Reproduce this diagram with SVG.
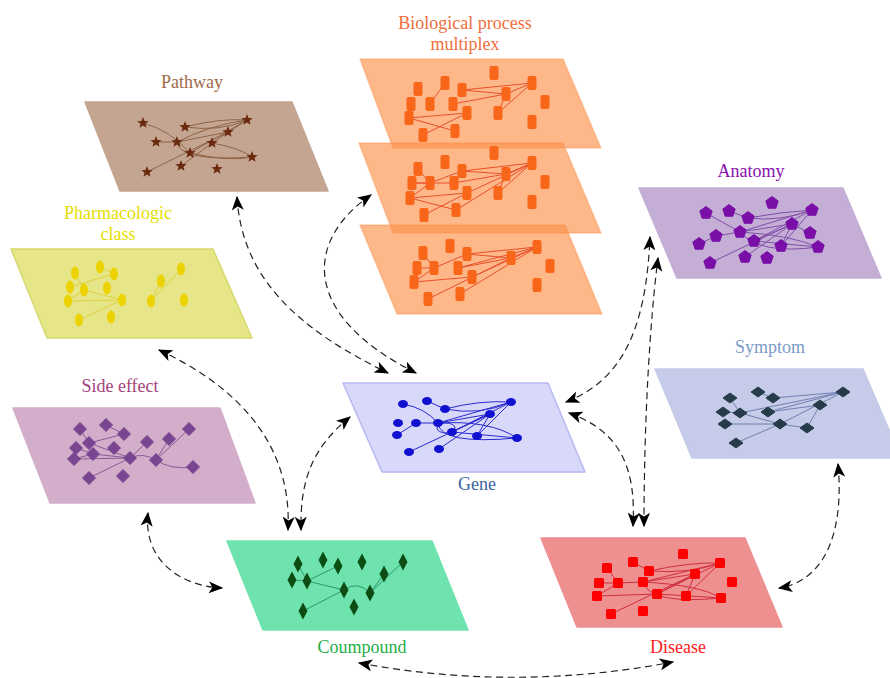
<svg xmlns="http://www.w3.org/2000/svg" xmlns:xlink="http://www.w3.org/1999/xlink" width="890" height="678" viewBox="0 0 890 678">
<style>
.lbl{font-family:"Liberation Serif","DejaVu Serif",serif;font-size:18px;text-anchor:middle}
.plane{stroke-linejoin:round;stroke-width:1.5}
.conn{fill:none;stroke:#222;stroke-width:1.2;stroke-dasharray:7,4.5;marker-start:url(#ah);marker-end:url(#ah)}
.e{fill:none;stroke-width:1}
</style>
<defs>
<marker id="ah" viewBox="0 0 12 10" refX="11" refY="5" markerWidth="15" markerHeight="12" markerUnits="userSpaceOnUse" orient="auto-start-reverse">
<path d="M0,0 L12,5 L0,10 L3,5 Z" fill="#000"/>
</marker>
<path id="star" d="M0,-6 L1.53,-2.1 5.71,-1.85 2.47,0.8 3.53,4.85 0,2.6 -3.53,4.85 -2.47,0.8 -5.71,-1.85 -1.53,-2.1 Z" fill="#6b2a0e"/>
<path id="pent" d="M0,-6.5 L6.18,-2.01 3.82,5.26 -3.82,5.26 -6.18,-2.01 Z" fill="#7a0fa8" stroke="#7a0fa8" stroke-width="1" stroke-linejoin="round"/>
<path id="dse" d="M0,-6.5 L6.5,0 0,6.5 -6.5,0 Z" fill="#7a4590" stroke="#7a4590" stroke-width="1" stroke-linejoin="round"/>
<path id="dsy" d="M0,-5 L7,0 0,5 -7,0 Z" fill="#263c4a" stroke="#263c4a" stroke-width="1" stroke-linejoin="round"/>
<path id="dco" d="M0,-8.5 L4.5,0 0,8.5 -4.5,0 Z" fill="#0b4d12"/>
<rect id="rbp" x="-4.5" y="-7" width="9" height="14" rx="2" fill="#f8661a"/>
<rect id="rdi" x="-5" y="-5" width="10" height="10" rx="1.5" fill="#ff0000"/>
<ellipse id="eph" rx="4" ry="6.5" fill="#ecd200"/>
<ellipse id="ege" rx="5" ry="4" fill="#1010d0"/>
</defs>

<g id="pathway">
<polygon class="plane" points="85,102 292,102 328,191 120,191" fill="#c3a591" stroke="#c3a591"/>
<text class="lbl" x="192" y="88" fill="#a06a4a">Pathway</text>
<g class="e" stroke="#8e6448">
<path d="M143,123 Q170,130 190,153"/>
<path d="M185,127 Q220,118 247,120"/>
<path d="M185,127 Q220,132 247,120"/>
<line x1="156" y1="142" x2="177" y2="142"/>
<path d="M177,142 Q210,125 247,120"/>
<line x1="177" y1="142" x2="228" y2="132"/>
<line x1="212" y1="143" x2="247" y2="120"/>
<line x1="190" y1="153" x2="247" y2="120"/>
<line x1="147" y1="172" x2="228" y2="132"/>
<line x1="181" y1="166" x2="212" y2="143"/>
<path d="M177,142 Q180,162 252,157"/>
<path d="M212,143 Q240,148 252,157"/>
<path d="M190,153 Q230,162 252,157"/>
</g>
<use xlink:href="#star" x="143" y="123"/><use xlink:href="#star" x="185" y="127"/><use xlink:href="#star" x="247" y="120"/>
<use xlink:href="#star" x="228" y="132"/><use xlink:href="#star" x="156" y="142"/><use xlink:href="#star" x="177" y="142"/>
<use xlink:href="#star" x="212" y="143"/><use xlink:href="#star" x="190" y="153"/><use xlink:href="#star" x="252" y="157"/>
<use xlink:href="#star" x="181" y="166"/><use xlink:href="#star" x="217" y="169"/><use xlink:href="#star" x="147" y="172"/>
</g>

<g id="bioprocess">
<text class="lbl" x="465" y="29" fill="#ef6f3c">Biological process</text>
<text class="lbl" x="465" y="50" fill="#ef6f3c">multiplex</text>
<g id="bp1">
<polygon class="plane" points="360,59 563,59 601,148 393,148" fill="#fc904a" fill-opacity="0.65" stroke="#fc904a" stroke-opacity="0.4"/>
<g class="e" stroke="#e8502a">
<line x1="445" y1="83" x2="430" y2="104"/><line x1="462" y1="90" x2="532" y2="83"/><line x1="462" y1="90" x2="506" y2="94"/>
<line x1="453" y1="104" x2="506" y2="94"/><line x1="506" y1="94" x2="532" y2="83"/><line x1="409" y1="118" x2="455" y2="131"/>
<line x1="423" y1="135" x2="467" y2="113"/><line x1="498" y1="113" x2="532" y2="83"/><line x1="498" y1="113" x2="506" y2="94"/>
<line x1="409" y1="118" x2="467" y2="113"/>
</g>
<use xlink:href="#rbp" x="494" y="73"/><use xlink:href="#rbp" x="445" y="83"/><use xlink:href="#rbp" x="418" y="89"/><use xlink:href="#rbp" x="462" y="90"/>
<use xlink:href="#rbp" x="532" y="83"/><use xlink:href="#rbp" x="506" y="94"/><use xlink:href="#rbp" x="411" y="104"/><use xlink:href="#rbp" x="430" y="104"/>
<use xlink:href="#rbp" x="453" y="104"/><use xlink:href="#rbp" x="545" y="102"/><use xlink:href="#rbp" x="467" y="113"/><use xlink:href="#rbp" x="498" y="113"/>
<use xlink:href="#rbp" x="409" y="118"/><use xlink:href="#rbp" x="532" y="122"/><use xlink:href="#rbp" x="455" y="131"/><use xlink:href="#rbp" x="423" y="135"/>
</g>
<g id="bp2">
<polygon class="plane" points="359,143 563,143 601,233 393,233" fill="#fc904a" fill-opacity="0.65" stroke="#fc904a" stroke-opacity="0.4"/>
<g class="e" stroke="#e8502a">
<line x1="412" y1="183" x2="454" y2="183"/><line x1="462" y1="171" x2="532" y2="163"/><line x1="462" y1="171" x2="506" y2="174"/>
<line x1="454" y1="183" x2="506" y2="174"/><line x1="506" y1="174" x2="532" y2="163"/><line x1="410" y1="198" x2="456" y2="210"/>
<line x1="424" y1="215" x2="467" y2="193"/><line x1="498" y1="193" x2="532" y2="163"/><line x1="498" y1="193" x2="506" y2="174"/>
<line x1="410" y1="198" x2="467" y2="193"/><line x1="418" y1="169" x2="430" y2="183"/><line x1="430" y1="183" x2="462" y2="171"/>
<line x1="412" y1="183" x2="430" y2="183"/><line x1="410" y1="198" x2="430" y2="183"/><line x1="456" y1="210" x2="532" y2="163"/>
<line x1="467" y1="193" x2="532" y2="163"/>
</g>
<use xlink:href="#rbp" x="494" y="153"/><use xlink:href="#rbp" x="445" y="162"/><use xlink:href="#rbp" x="418" y="169"/><use xlink:href="#rbp" x="462" y="171"/>
<use xlink:href="#rbp" x="532" y="163"/><use xlink:href="#rbp" x="506" y="174"/><use xlink:href="#rbp" x="412" y="183"/><use xlink:href="#rbp" x="430" y="183"/>
<use xlink:href="#rbp" x="454" y="183"/><use xlink:href="#rbp" x="545" y="182"/><use xlink:href="#rbp" x="467" y="193"/><use xlink:href="#rbp" x="498" y="193"/>
<use xlink:href="#rbp" x="410" y="198"/><use xlink:href="#rbp" x="532" y="202"/><use xlink:href="#rbp" x="456" y="210"/><use xlink:href="#rbp" x="424" y="215"/>
</g>
<g id="bp3">
<polygon class="plane" points="360,225 565,225 602,314 397,314" fill="#fc904a" fill-opacity="0.65" stroke="#fc904a" stroke-opacity="0.4"/>
<g class="e" stroke="#e8502a">
<line x1="423" y1="253" x2="434" y2="268"/><line x1="467" y1="254" x2="537" y2="247"/><line x1="467" y1="254" x2="511" y2="258"/>
<line x1="458" y1="268" x2="511" y2="258"/><line x1="511" y1="258" x2="537" y2="247"/><line x1="414" y1="282" x2="472" y2="277"/>
<line x1="428" y1="299" x2="511" y2="258"/><line x1="460" y1="294" x2="537" y2="247"/><line x1="417" y1="268" x2="434" y2="268"/>
<line x1="434" y1="268" x2="467" y2="254"/><line x1="414" y1="282" x2="434" y2="268"/><line x1="458" y1="268" x2="537" y2="247"/>
<line x1="472" y1="277" x2="537" y2="247"/>
</g>
<use xlink:href="#rbp" x="450" y="246"/><use xlink:href="#rbp" x="423" y="253"/><use xlink:href="#rbp" x="467" y="254"/><use xlink:href="#rbp" x="537" y="247"/>
<use xlink:href="#rbp" x="511" y="258"/><use xlink:href="#rbp" x="417" y="268"/><use xlink:href="#rbp" x="434" y="268"/><use xlink:href="#rbp" x="458" y="268"/>
<use xlink:href="#rbp" x="550" y="266"/><use xlink:href="#rbp" x="472" y="277"/><use xlink:href="#rbp" x="414" y="282"/><use xlink:href="#rbp" x="537" y="285"/>
<use xlink:href="#rbp" x="460" y="294"/><use xlink:href="#rbp" x="428" y="299"/>
</g>
</g>

<g id="pharmacologic">
<polygon class="plane" points="11,249 213,249 252,338 47,338" fill="#e6e688" stroke="#d8d870" stroke-width="1"/>
<text class="lbl" x="118" y="219" fill="#e4e000">Pharmacologic</text>
<text class="lbl" x="118" y="240" fill="#e4e000">class</text>
<g class="e" stroke="#e0d040">
<line x1="100" y1="267" x2="114" y2="274"/><line x1="75" y1="273" x2="84" y2="290"/><line x1="70" y1="287" x2="114" y2="274"/>
<line x1="84" y1="290" x2="122" y2="300"/><line x1="68" y1="301" x2="122" y2="300"/><line x1="68" y1="301" x2="84" y2="290"/>
<line x1="79" y1="320" x2="122" y2="300"/><line x1="151" y1="301" x2="161" y2="281"/><line x1="151" y1="301" x2="181" y2="269"/>
</g>
<use xlink:href="#eph" x="75" y="273"/><use xlink:href="#eph" x="100" y="267"/><use xlink:href="#eph" x="114" y="274"/><use xlink:href="#eph" x="70" y="287"/>
<use xlink:href="#eph" x="84" y="290"/><use xlink:href="#eph" x="107" y="288"/><use xlink:href="#eph" x="68" y="301"/><use xlink:href="#eph" x="122" y="300"/>
<use xlink:href="#eph" x="79" y="320"/><use xlink:href="#eph" x="111" y="317"/><use xlink:href="#eph" x="161" y="281"/><use xlink:href="#eph" x="181" y="269"/>
<use xlink:href="#eph" x="151" y="301"/><use xlink:href="#eph" x="184" y="300"/>
</g>

<g id="anatomy">
<polygon class="plane" points="639,188 843,188 881,278 677,278" fill="#c4aed6" stroke="#c4aed6"/>
<text class="lbl" x="751" y="177" fill="#8a10b0">Anatomy</text>
<g class="e" stroke="#8050a8">
<line x1="706" y1="213" x2="740" y2="232"/><path d="M748,218 Q780,212 812,210"/><path d="M748,218 Q780,222 812,210"/>
<line x1="729" y1="211" x2="748" y2="218"/><line x1="740" y1="232" x2="792" y2="224"/><line x1="740" y1="232" x2="812" y2="210"/>
<line x1="716" y1="236" x2="740" y2="232"/><line x1="699" y1="244" x2="716" y2="236"/><line x1="754" y1="241" x2="812" y2="210"/>
<line x1="754" y1="241" x2="792" y2="224"/><line x1="781" y1="246" x2="812" y2="210"/><line x1="781" y1="246" x2="792" y2="224"/>
<path d="M740,232 Q760,255 818,247"/><line x1="754" y1="241" x2="818" y2="247"/><line x1="745" y1="257" x2="792" y2="224"/>
<line x1="710" y1="263" x2="792" y2="224"/><line x1="792" y1="224" x2="810" y2="233"/><path d="M740,232 Q790,235 818,247"/>
</g>
<use xlink:href="#pent" x="772" y="203"/><use xlink:href="#pent" x="706" y="213"/><use xlink:href="#pent" x="729" y="211"/><use xlink:href="#pent" x="748" y="218"/>
<use xlink:href="#pent" x="812" y="210"/><use xlink:href="#pent" x="792" y="224"/><use xlink:href="#pent" x="740" y="232"/><use xlink:href="#pent" x="716" y="236"/>
<use xlink:href="#pent" x="810" y="233"/><use xlink:href="#pent" x="754" y="241"/><use xlink:href="#pent" x="699" y="244"/><use xlink:href="#pent" x="781" y="246"/>
<use xlink:href="#pent" x="818" y="247"/><use xlink:href="#pent" x="745" y="257"/><use xlink:href="#pent" x="767" y="258"/><use xlink:href="#pent" x="710" y="263"/>
</g>

<g id="sideeffect">
<polygon class="plane" points="13,408 220,408 255,503 50,503" fill="#d3aecb" stroke="#d3aecb"/>
<text class="lbl" x="120" y="392" fill="#a3437c">Side effect</text>
<g class="e" stroke="#8a5a98">
<line x1="80" y1="429" x2="89" y2="443"/><line x1="106" y1="425" x2="124" y2="434"/><line x1="89" y1="443" x2="124" y2="434"/>
<line x1="76" y1="448" x2="93" y2="454"/><line x1="74" y1="459" x2="93" y2="454"/><line x1="74" y1="459" x2="130" y2="458"/>
<line x1="93" y1="454" x2="130" y2="458"/><line x1="89" y1="443" x2="130" y2="458"/><line x1="130" y1="458" x2="147" y2="442"/>
<path d="M130,458 Q143,452 156,460"/><line x1="156" y1="460" x2="169" y2="439"/><line x1="156" y1="460" x2="189" y2="429"/>
<path d="M156,460 Q170,470 193,467"/><line x1="89" y1="478" x2="130" y2="458"/>
</g>
<use xlink:href="#dse" x="80" y="429"/><use xlink:href="#dse" x="106" y="425"/><use xlink:href="#dse" x="124" y="434"/><use xlink:href="#dse" x="89" y="443"/>
<use xlink:href="#dse" x="76" y="448"/><use xlink:href="#dse" x="114" y="448"/><use xlink:href="#dse" x="147" y="442"/><use xlink:href="#dse" x="169" y="439"/>
<use xlink:href="#dse" x="189" y="429"/><use xlink:href="#dse" x="93" y="454"/><use xlink:href="#dse" x="74" y="459"/><use xlink:href="#dse" x="130" y="458"/>
<use xlink:href="#dse" x="156" y="460"/><use xlink:href="#dse" x="193" y="467"/><use xlink:href="#dse" x="89" y="478"/><use xlink:href="#dse" x="123" y="476"/>
</g>

<g id="gene">
<polygon class="plane" points="343,383 548,383 585,472 382,472" fill="#d8d8fa" stroke="#b8b8f4" stroke-width="1"/>
<text class="lbl" x="477" y="490" fill="#3a64a0">Gene</text>
<g class="e" stroke="#2a2ad0">
<path d="M403,404 Q425,408 438,423"/><line x1="427" y1="401" x2="445" y2="409"/><path d="M445,409 Q480,400 511,402"/>
<path d="M445,409 Q480,416 511,402"/><line x1="438" y1="423" x2="490" y2="414"/><line x1="416" y1="423" x2="438" y2="423"/>
<line x1="397" y1="435" x2="416" y2="423"/><line x1="438" y1="423" x2="511" y2="402"/><line x1="452" y1="432" x2="511" y2="402"/>
<line x1="452" y1="432" x2="490" y2="414"/><line x1="477" y1="436" x2="511" y2="402"/><line x1="477" y1="436" x2="490" y2="414"/>
<path d="M438,423 Q440,445 517,438"/><path d="M438,423 Q490,420 517,438"/><line x1="452" y1="432" x2="517" y2="438"/>
<line x1="409" y1="452" x2="490" y2="414"/><line x1="439" y1="449" x2="490" y2="414"/><ellipse cx="446" cy="428" rx="9" ry="5" fill="none"/>
</g>
<use xlink:href="#ege" x="403" y="404"/><use xlink:href="#ege" x="427" y="401"/><use xlink:href="#ege" x="445" y="409"/><use xlink:href="#ege" x="511" y="402"/>
<use xlink:href="#ege" x="490" y="414"/><use xlink:href="#ege" x="398" y="423"/><use xlink:href="#ege" x="416" y="423"/><use xlink:href="#ege" x="438" y="423"/>
<use xlink:href="#ege" x="452" y="432"/><use xlink:href="#ege" x="477" y="436"/><use xlink:href="#ege" x="397" y="435"/><use xlink:href="#ege" x="517" y="438"/>
<use xlink:href="#ege" x="409" y="452"/><use xlink:href="#ege" x="439" y="449"/>
</g>

<g id="symptom">
<polygon class="plane" points="655,369 863,369 901,458 692,458" fill="#c5cbe8" stroke="#c5cbe8"/>
<text class="lbl" x="770" y="353" fill="#7a9cc8">Symptom</text>
<g class="e" stroke="#7080b0">
<line x1="758" y1="392" x2="773" y2="398"/><line x1="773" y1="398" x2="843" y2="392"/><line x1="740" y1="413" x2="843" y2="392"/>
<line x1="768" y1="412" x2="820" y2="405"/><line x1="768" y1="412" x2="843" y2="392"/><line x1="730" y1="398" x2="740" y2="413"/>
<line x1="723" y1="412" x2="740" y2="413"/><line x1="740" y1="413" x2="780" y2="424"/><line x1="725" y1="424" x2="780" y2="424"/>
<line x1="780" y1="424" x2="807" y2="428"/><line x1="807" y1="428" x2="820" y2="405"/><line x1="780" y1="424" x2="843" y2="392"/>
<line x1="736" y1="443" x2="780" y2="424"/>
</g>
<use xlink:href="#dsy" x="730" y="398"/><use xlink:href="#dsy" x="758" y="392"/><use xlink:href="#dsy" x="773" y="398"/><use xlink:href="#dsy" x="843" y="392"/>
<use xlink:href="#dsy" x="820" y="405"/><use xlink:href="#dsy" x="723" y="412"/><use xlink:href="#dsy" x="740" y="413"/><use xlink:href="#dsy" x="768" y="412"/>
<use xlink:href="#dsy" x="725" y="424"/><use xlink:href="#dsy" x="780" y="424"/><use xlink:href="#dsy" x="807" y="428"/><use xlink:href="#dsy" x="736" y="443"/>
</g>

<g id="compound">
<polygon class="plane" points="227,541 432,541 468,630 263,630" fill="#6fe3ad" stroke="#6fe3ad"/>
<text class="lbl" x="362" y="653" fill="#1fae4a">Coumpound</text>
<g class="e" stroke="#2a9a6a">
<line x1="298" y1="564" x2="307" y2="581"/><line x1="307" y1="581" x2="338" y2="566"/><line x1="292" y1="580" x2="307" y2="581"/>
<line x1="307" y1="581" x2="344" y2="590"/><path d="M344,590 Q357,580 370,593"/><line x1="303" y1="611" x2="344" y2="590"/>
<line x1="370" y1="593" x2="384" y2="574"/><line x1="370" y1="593" x2="403" y2="562"/>
</g>
<use xlink:href="#dco" x="298" y="564"/><use xlink:href="#dco" x="323" y="560"/><use xlink:href="#dco" x="338" y="566"/><use xlink:href="#dco" x="362" y="562"/>
<use xlink:href="#dco" x="403" y="562"/><use xlink:href="#dco" x="384" y="574"/><use xlink:href="#dco" x="292" y="580"/><use xlink:href="#dco" x="307" y="581"/>
<use xlink:href="#dco" x="344" y="590"/><use xlink:href="#dco" x="370" y="593"/><use xlink:href="#dco" x="303" y="611"/><use xlink:href="#dco" x="354" y="607"/>
</g>

<g id="disease">
<polygon class="plane" points="541,538 745,538 782,627 577,627" fill="#ee8f90" stroke="#ee8f90"/>
<text class="lbl" x="678" y="653" fill="#ff1a1a">Disease</text>
<g class="e" stroke="#d0303f">
<line x1="607" y1="568" x2="618" y2="583"/><line x1="633" y1="562" x2="649" y2="571"/><path d="M649,571 Q690,562 720,563"/>
<path d="M649,571 Q690,574 720,563"/><line x1="618" y1="583" x2="643" y2="582"/><line x1="599" y1="583" x2="618" y2="583"/>
<line x1="643" y1="582" x2="695" y2="574"/><line x1="643" y1="582" x2="720" y2="563"/><line x1="657" y1="594" x2="720" y2="563"/>
<line x1="657" y1="594" x2="695" y2="574"/><line x1="686" y1="596" x2="720" y2="563"/><line x1="686" y1="596" x2="695" y2="574"/>
<line x1="597" y1="596" x2="657" y2="594"/><line x1="597" y1="596" x2="618" y2="583"/><line x1="611" y1="614" x2="695" y2="574"/>
<path d="M643,582 Q650,605 721,598"/><line x1="657" y1="594" x2="721" y2="598"/><path d="M643,582 Q700,585 721,598"/>
</g>
<use xlink:href="#rdi" x="683" y="554"/><use xlink:href="#rdi" x="607" y="568"/><use xlink:href="#rdi" x="633" y="562"/><use xlink:href="#rdi" x="649" y="571"/>
<use xlink:href="#rdi" x="720" y="563"/><use xlink:href="#rdi" x="695" y="574"/><use xlink:href="#rdi" x="599" y="583"/><use xlink:href="#rdi" x="618" y="583"/>
<use xlink:href="#rdi" x="643" y="582"/><use xlink:href="#rdi" x="732" y="582"/><use xlink:href="#rdi" x="657" y="594"/><use xlink:href="#rdi" x="686" y="596"/>
<use xlink:href="#rdi" x="597" y="596"/><use xlink:href="#rdi" x="721" y="598"/><use xlink:href="#rdi" x="611" y="614"/><use xlink:href="#rdi" x="643" y="611"/>
</g>

<g id="connectors">
<path class="conn" d="M237,197 C242,280 300,330 388,373"/>
<path class="conn" d="M371,195 C305,240 300,315 416,373"/>
<path class="conn" d="M159,350 C245,390 292,450 288,530"/>
<path class="conn" d="M350,417 C312,448 300,480 301,530"/>
<path class="conn" d="M148,513 C143,560 180,586 222,588"/>
<path class="conn" d="M359,663 Q515,692 673,662"/>
<path class="conn" d="M566,402 C622,380 646,330 650,237"/>
<path class="conn" d="M644,526 C644,420 650,320 658,258"/>
<path class="conn" d="M569,413 C622,432 636,470 633,526"/>
<path class="conn" d="M838,464 C845,540 820,582 779,588"/>
</g>
</svg>
